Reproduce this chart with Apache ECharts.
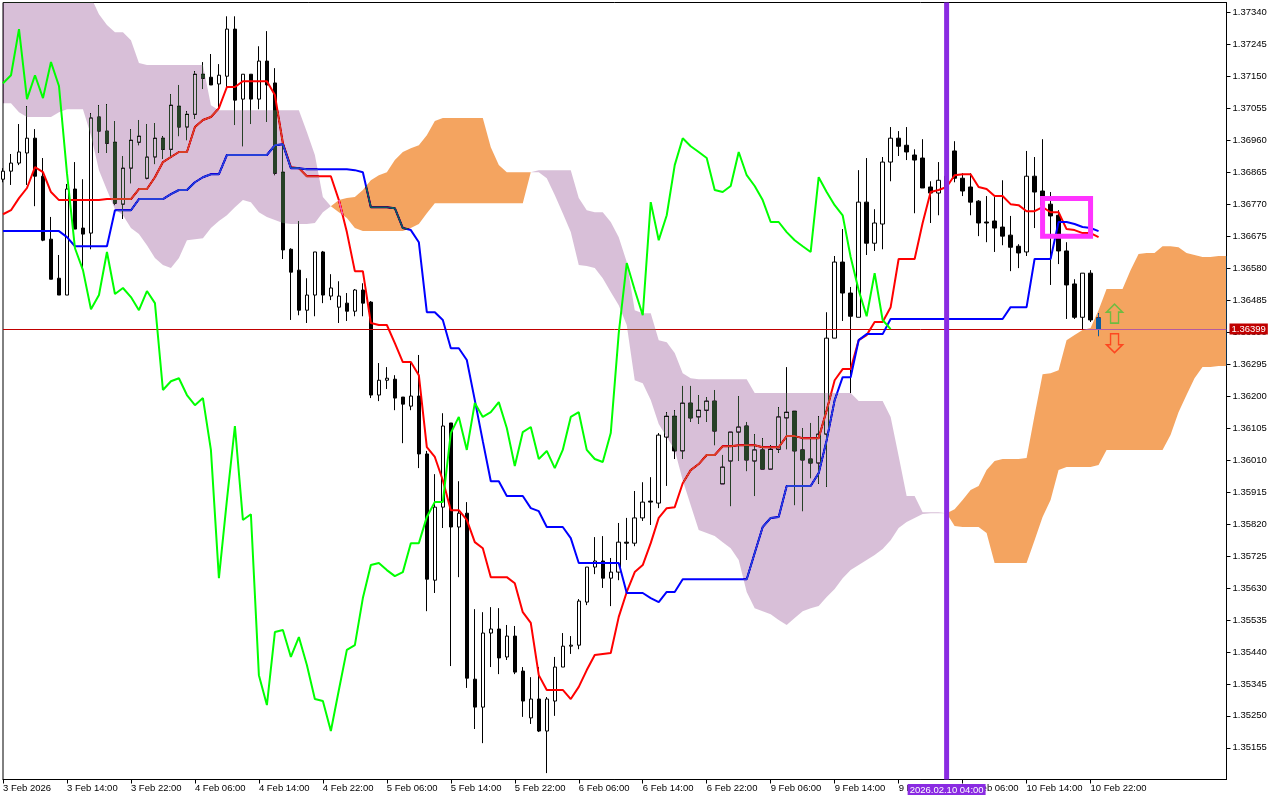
<!DOCTYPE html>
<html>
<head>
<meta charset="utf-8">
<title>GBPUSD H1 Ichimoku</title>
<style>
html, body { margin: 0; padding: 0; background: #fff; }
#chart { width: 1280px; height: 800px; }
</style>
<script src="https://cdn.jsdelivr.net/npm/echarts@6/dist/echarts.min.js"></script>
</head>
<body>
<div id="chart"></div>
<script>
// x axis labels, one every 8 bars
var tickLabels = ['3 Feb 2026', '3 Feb 14:00', '3 Feb 22:00', '4 Feb 06:00', '4 Feb 14:00', '4 Feb 22:00',
  '5 Feb 06:00', '5 Feb 14:00', '5 Feb 22:00', '6 Feb 06:00', '6 Feb 14:00', '6 Feb 22:00',
  '9 Feb 06:00', '9 Feb 14:00', '9 Feb 22:00', '10 Feb 06:00', '10 Feb 14:00', '10 Feb 22:00'];

var priceTicks = [1.37340, 1.37245, 1.37150, 1.37055, 1.36960, 1.36865, 1.36770, 1.36675, 1.36580, 1.36485,
  1.36390, 1.36295, 1.36200, 1.36105, 1.36010, 1.35915, 1.35820, 1.35725, 1.35630, 1.35535, 1.35440, 1.35345,
  1.35250, 1.35155];

var opens = [136844,136868,136892,136922,136966,136853,136666,136550,136500,136815,
  136699,136684,137029,136987,136954,136770,136877,136954,136847,136910,
  136966,136933,137061,136999,137037,137156,137147,137127,137150,137290,
  137082,137156,137082,137195,137130,136865,136636,136574,136455,136500,
  136628,136497,136464,136476,136452,136515,136479,136203,136247,136250,
  136197,136170,136200,136028,135653,135870,136120,135811,135852,135359,
  135276,135496,135508,135425,135487,135383,135244,135300,135205,135294,
  135395,135457,135460,135588,135692,135710,135659,135677,135766,135763,
  135838,135888,135882,136078,136140,136037,136179,136138,136158,136185,
  135939,136007,136093,136111,136007,136040,135983,136042,136135,136155,
  136040,136013,136001,136087,136372,136598,136506,136434,136776,136654,
  136711,136895,136966,136945,136916,136907,136821,136803,136818,136928,
  136847,136821,136779,136717,136720,136702,136678,136645,136628,136853,
  136809,136770,136737,136631,136533,136434,136565,136432];
var highs = [136877,136919,137008,137061,136993,136907,136732,136619,136830,136895,
  136844,137040,137064,137067,137017,136913,136993,137020,137008,137011,
  136972,137097,137124,137046,137165,137192,137216,137186,137328,137328,
  137156,137156,137239,137284,137174,136948,136639,136720,136550,136628,
  136631,136562,136541,136506,136518,136535,136482,136298,136286,136262,
  136197,136301,136322,136037,135968,136149,136120,135947,135885,135567,
  135558,135573,135570,135520,135517,135395,135365,135395,135306,135425,
  135496,135487,135597,135692,135781,135784,135719,135823,135838,135918,
  135944,135959,136090,136152,136158,136230,136230,136203,136197,136218,
  136025,136093,136200,136123,136087,136075,136054,136167,136286,136155,
  136105,136120,136140,136449,136616,136696,136524,136871,136907,136755,
  136910,136999,136987,136999,136933,136963,136838,136895,136886,136957,
  136862,136862,136782,136794,136791,136841,136735,136651,136928,136910,
  136963,136806,136752,136657,136547,136565,136574,136446];
var lows = [136835,136827,136886,136827,136764,136660,136547,136500,136500,136696,
  136580,136636,136922,136922,136767,136726,136832,136945,136844,136889,
  136904,136910,136972,136960,137023,137112,137124,137055,137118,137005,
  136942,137008,137052,137014,136856,136607,136426,136440,136417,136437,
  136476,136485,136417,136423,136437,136437,136194,136185,136221,136158,
  136060,136158,135986,135561,135615,135808,135398,135662,135333,135211,
  135169,135395,135374,135416,135374,135247,135226,135202,135080,135250,
  135395,135434,135448,135579,135671,135630,135576,135653,135713,135754,
  135829,135817,135867,135933,136013,136013,136123,136117,136123,136054,
  135939,135873,136007,135977,135903,135983,135983,136031,136042,135876,
  135858,135956,135939,135930,136372,136423,136209,136434,136619,136631,
  136636,136838,136913,136901,136743,136818,136714,136737,136797,136835,
  136794,136737,136675,136657,136628,136648,136571,136580,136616,136699,
  136752,136530,136592,136429,136429,136399,136420,136378];
var closes = [136868,136892,136925,136966,136853,136663,136547,136500,136815,136696,
  136681,137026,136987,136951,136773,136877,136960,136972,136910,136966,
  136933,137064,136999,137037,137156,137144,137124,137153,137290,137079,
  137156,137082,137195,137124,136862,136634,136568,136455,136500,136628,
  136500,136521,136497,136452,136515,136476,136203,136247,136253,136194,
  136176,136200,136028,135656,135870,136111,135811,135852,135362,135276,
  135496,135508,135422,135487,135380,135294,135300,135205,135300,135395,
  135457,135460,135591,135692,135710,135659,135677,135766,135763,135838,
  135885,135885,136084,136140,136037,136179,136135,136158,136185,136096,
  135989,136093,136108,136010,136040,135983,136042,136138,136152,136037,
  136010,136001,136087,136372,136598,136506,136437,136776,136654,136714,
  136895,136966,136942,136925,136901,136818,136803,136841,136853,136847,
  136809,136776,136714,136714,136699,136675,136642,136625,136853,136806,
  136767,136735,136631,136530,136434,136565,136426,136399];

var tenkan = [136740,136752,136788,136818,136880,136865,136806,136782,136782,136782,
  136782,136782,136782,136785,136785,136785,136785,136815,136815,136850,
  136895,136910,136925,136925,136999,137020,137029,137055,137118,137118,
  137135,137135,137135,137135,137094,136951,136880,136877,136853,136853,
  136853,136853,136782,136687,136571,136571,136417,136411,136411,136357,
  136301,136301,136262,136048,136019,135950,135861,135861,135832,135766,
  135748,135662,135662,135662,135644,135558,135526,135371,135327,135327,
  135327,135300,135336,135386,135431,135434,135437,135544,135618,135677,
  135698,135763,135838,135867,135870,135941,135980,135998,136025,136025,
  136051,136051,136054,136054,136054,136048,136048,136048,136081,136081,
  136075,136075,136075,136158,136247,136280,136280,136366,136381,136420,
  136420,136464,136607,136607,136607,136714,136806,136812,136821,136856,
  136859,136859,136821,136815,136794,136794,136770,136767,136749,136749,
  136761,136746,136746,136696,136693,136684,136684,136672];
var kijun = [136690,136690,136690,136690,136690,136690,136690,136690,136672,136645,
  136645,136645,136645,136645,136752,136752,136752,136785,136785,136785,
  136785,136800,136812,136812,136835,136850,136859,136859,136916,136916,
  136916,136916,136916,136916,136945,136948,136877,136877,136874,136874,
  136874,136874,136874,136874,136871,136865,136761,136761,136761,136758,
  136699,136693,136657,136449,136449,136426,136342,136342,136307,136188,
  136066,135947,135947,135903,135903,135903,135867,135858,135811,135811,
  135811,135778,135704,135704,135704,135704,135704,135704,135615,135615,
  135615,135600,135588,135618,135618,135656,135656,135656,135656,135656,
  135656,135656,135656,135656,135734,135811,135838,135841,135933,135933,
  135933,135933,135971,136069,136188,136256,136256,136366,136384,136384,
  136384,136429,136429,136429,136429,136429,136429,136429,136429,136429,
  136429,136429,136429,136429,136429,136429,136464,136464,136464,136607,
  136607,136607,136717,136717,136711,136702,136699,136690];
var chikou = [137129,137153,137290,137082,137153,137085,137192,137121,136862,136639,
  136574,136458,136500,136628,136503,136521,136494,136455,136512,136476,
  136218,136244,136253,136203,136173,136194,136040,135659,135891,136111,
  135832,135849,135371,135282,135499,135505,135425,135484,135401,135300,
  135294,135205,135327,135446,135460,135600,135698,135704,135683,135665,
  135677,135763,135763,135841,135885,135885,136090,136138,136040,136179,
  136138,136152,136182,136105,135992,136093,136108,136013,136037,135986,
  136040,136138,136152,136040,136013,136004,136090,136387,136595,136515,
  136440,136776,136663,136737,136886,136966,136942,136925,136907,136812,
  136806,136824,136925,136856,136824,136782,136717,136717,136687,136663,
  136645,136628,136850,136806,136767,136737,136613,136515,136437,136565,
  136426,136399];
var spanA = [137070,137070,137043,137029,137029,137029,137029,137043,137052,137052,
  137052,136975,136871,136812,136755,136737,136699,136681,136648,136610,
  136589,136580,136610,136663,136666,136669,136699,136720,136737,136761,
  136782,136776,136746,136732,136723,136714,136711,136711,136711,136714,
  136746,136764,136782,136788,136791,136812,136841,136856,136865,136901,
  136925,136936,136945,136975,137017,137026,137026,137026,137026,137026,
  137026,136939,136886,136865,136865,136865,136865,136865,136847,136797,
  136743,136687,136589,136586,136580,136550,136509,136470,136411,136247,
  136238,136188,136117,136078,136040,135950,135876,135802,135793,135784,
  135766,135748,135713,135618,135570,135561,135552,135535,135520,135541,
  135561,135570,135576,135603,135627,135659,135683,135698,135713,135728,
  135746,135772,135808,135826,135838,135850,135852,135852,135852,135864,
  135891,135921,135933,135980,136007,136013,136013,136013,136016,136143,
  136265,136268,136277,136366,136381,136396,136402,136455,136518,136518,
  136518,136574,136622,136625,136625,136645,136645,136642,136625,136619,
  136613,136613,136616,136616];
var spanB = [137406,137406,137406,137406,137406,137406,137406,137406,137406,137406,
  137406,137385,137334,137302,137281,137281,137257,137189,137183,137183,
  137183,137183,137183,137183,137183,137183,137064,137049,137049,137049,
  137049,137049,137049,137049,137049,137049,137049,137049,136984,136916,
  136791,136764,136746,136729,136699,136690,136690,136690,136690,136690,
  136690,136699,136711,136743,136773,136773,136773,136773,136773,136773,
  136773,136773,136773,136773,136773,136773,136865,136871,136871,136871,
  136871,136871,136788,136752,136746,136746,136717,136672,136598,136455,
  136446,136446,136366,136360,136328,136268,136253,136250,136250,136250,
  136250,136250,136250,136250,136209,136209,136209,136209,136209,136209,
  136209,136209,136209,136209,136209,136209,136209,136185,136185,136185,
  136185,136138,136022,135903,135903,135855,135855,135855,135852,135814,
  135811,135811,135811,135793,135704,135704,135704,135704,135704,135772,
  135841,135891,135980,135989,135989,135989,135989,135995,136040,136040,
  136040,136040,136040,136040,136040,136040,136084,136152,136203,136253,
  136286,136286,136289,136289];

var currentPrice = 1.36399;
var markerBar = 118;
var markerTime = '2026.02.10 04:00';
var boxBars = [130, 136];
var boxPrices = [1.36787, 1.36675];
var upArrow = [139, 1.36445];
var downArrow = [139, 1.36357];

var categories = [];
for (var i = 0; i < spanA.length; i++) {
  categories.push(i % 8 == 0 && tickLabels[i / 8] ? tickLabels[i / 8] : '');
}

var candles = [];
for (var n = 0; n < opens.length; n++) {
  candles.push([opens[n] / 1e5, closes[n] / 1e5, lows[n] / 1e5, highs[n] / 1e5]);
}

function toPrice(list) {
  return list.map(function (v) { return v / 1e5; });
}

// the cloud changes colour where the two spans meet
var cloudRuns = [];
var runStart = 0;
for (var k = 1; k < spanA.length; k++) {
  if (spanA[k] == spanB[k] || k == spanA.length - 1) {
    cloudRuns.push([runStart, k]);
    runStart = k;
  }
}

function renderCloud(params, api) {
  var run = cloudRuns[params.dataIndex];
  var pts = [];
  for (var a = run[0]; a <= run[1]; a++) {
    pts.push(api.coord([a, spanA[a] / 1e5]));
  }
  for (var b = run[1]; b >= run[0]; b--) {
    pts.push(api.coord([b, spanB[b] / 1e5]));
  }
  var mid = Math.floor((run[0] + run[1]) / 2);
  return {
    type: 'polygon',
    shape: { points: pts },
    // inverted colours: difference on white gives thistle / sandybrown, and inverts what is underneath
    style: { fill: spanA[mid] < spanB[mid] ? '#274027' : '#0B5B9F' }
  };
}

function renderBox(params, api) {
  var p1 = api.coord([boxBars[0], boxPrices[0]]);
  var p2 = api.coord([boxBars[1], boxPrices[1]]);
  return {
    type: 'rect',
    shape: { x: p1[0], y: p1[1], width: p2[0] - p1[0], height: p2[1] - p1[1] },
    style: { fill: 'none', stroke: '#FF33FF', lineWidth: 5 }
  };
}

function renderMarker(params, api) {
  var top = api.coord([markerBar, priceAxisMax]);
  var bottom = api.coord([markerBar, priceAxisMin]);
  return {
    type: 'group',
    children: [{
      type: 'line',
      shape: { x1: top[0], y1: top[1], x2: bottom[0], y2: bottom[1] },
      style: { stroke: '#8A2BE2', lineWidth: 5 }
    }, {
      type: 'text',
      x: top[0],
      y: bottom[1] + 4.5,
      style: {
        text: markerTime, fill: '#fff', font: '9.5px "Liberation Sans"', align: 'center', verticalAlign: 'top',
        backgroundColor: '#8A2BE2', padding: [1, 2, 0, 2]
      }
    }]
  };
}

var priceAxisMin = 1.35061;
var priceAxisMax = 1.37369;
var axisFont = 'Liberation Sans';

var chart = echarts.init(document.getElementById('chart'), null, { renderer: 'canvas' });
chart.setOption({
  animation: false,
  backgroundColor: '#fff',
  grid: { left: 2.5, top: 2.5, width: 1224, height: 777, show: true, borderColor: '#000', borderWidth: 1, backgroundColor: 'transparent' },
  xAxis: {
    type: 'category',
    data: categories,
    boundaryGap: false,
    axisLine: { lineStyle: { color: '#000', width: 1 } },
    axisTick: {
      length: 4,
      lineStyle: { color: '#000' },
      interval: function (index) { return index % 8 == 0 && index / 8 < tickLabels.length; }
    },
    axisLabel: {
      interval: function (index) { return index % 8 == 0 && index / 8 < tickLabels.length; },
      align: 'left',
      margin: 4,
      color: '#000',
      fontFamily: axisFont,
      fontSize: 9.5,
      hideOverlap: false
    },
    splitLine: { show: false }
  },
  yAxis: {
    type: 'value',
    position: 'right',
    min: priceAxisMin,
    max: priceAxisMax,
    axisLine: { show: true, lineStyle: { color: '#000', width: 1 } },
    axisTick: { show: true, length: 4, customValues: priceTicks, lineStyle: { color: '#000' } },
    axisLabel: {
      customValues: priceTicks,
      margin: 6,
      color: '#000',
      fontFamily: axisFont,
      fontSize: 9.5,
      padding: [2, 0, 0, 0],
      formatter: function (v) { return v.toFixed(5); }
    },
    splitLine: { show: false }
  },
  series: [{
    type: 'candlestick',
    z: 2,
    barWidth: 4,
    data: candles,
    itemStyle: { color: '#fff', borderColor: '#000', color0: '#000', borderColor0: '#000', borderWidth: 1 }
  }, {
    type: 'line',
    name: 'Tenkan',
    z: 3,
    data: toPrice(tenkan),
    symbol: 'none',
    lineStyle: { color: '#FF0000', width: 2 },
    markLine: {
      z: 3,
      silent: true,
      symbol: 'none',
      precision: 5,
      lineStyle: { color: '#C00000', width: 1, type: 'solid' },
      label: {
        position: 'end',
        distance: 3,
        formatter: currentPrice.toFixed(5),
        color: '#fff',
        backgroundColor: '#C00000',
        fontFamily: axisFont,
        fontSize: 9.5,
        padding: [1, 2, 0, 2]
      },
      data: [{ yAxis: currentPrice }]
    }
  }, {
    type: 'line',
    name: 'Kijun',
    z: 4,
    data: toPrice(kijun),
    symbol: 'none',
    lineStyle: { color: '#0000FF', width: 2 }
  }, {
    type: 'custom',
    name: 'Cloud',
    z: 5,
    clip: true,
    silent: true,
    blendMode: 'difference',
    renderItem: renderCloud,
    data: cloudRuns
  }, {
    type: 'line',
    name: 'Chikou',
    z: 6,
    data: toPrice(chikou),
    symbol: 'none',
    lineStyle: { color: '#00FF00', width: 2 }
  }, {
    type: 'custom',
    z: 7,
    silent: true,
    renderItem: renderBox,
    data: [boxBars]
  }, {
    type: 'custom',
    z: 8,
    silent: true,
    renderItem: renderMarker,
    data: [[markerBar, currentPrice]]
  }, {
    type: 'scatter',
    z: 9,
    silent: true,
    symbol: 'path://M8 0 L16 8 L12 8 L12 19 L4 19 L4 8 L0 8 Z',
    symbolSize: [16, 19],
    itemStyle: { color: 'transparent', borderColor: '#4CC23A', borderWidth: 1.5 },
    data: [upArrow]
  }, {
    type: 'scatter',
    z: 9,
    silent: true,
    symbol: 'path://M4 0 L12 0 L12 11 L16 11 L8 19 L0 11 L4 11 Z',
    symbolSize: [16, 19],
    itemStyle: { color: 'transparent', borderColor: '#FF3010', borderWidth: 1.5 },
    data: [downArrow]
  }]
});
</script>
</body>
</html>
